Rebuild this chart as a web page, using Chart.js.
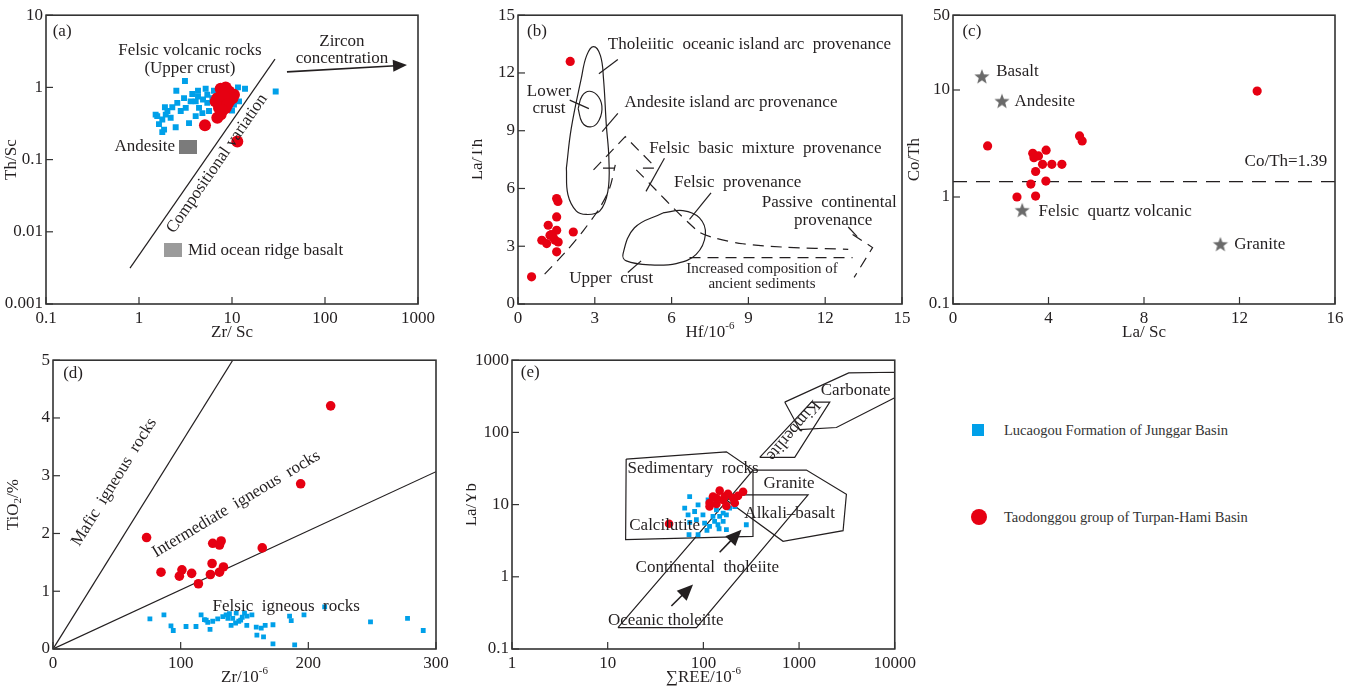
<!DOCTYPE html>
<html>
<head>
<meta charset="utf-8">
<script src="https://cdn.jsdelivr.net/npm/chart.js@4.4.1/dist/chart.umd.min.js"></script>
<style>
body { margin: 0; background: #fff; }
#wrap { position: relative; width: 1359px; height: 692px; overflow: hidden; background: #fff; font-family: 'Liberation Serif', serif; }
#wrap canvas { position: absolute; }
.lg { position: absolute; font-size: 14.5px; color: #333; line-height: 16px; }
.mk { position: absolute; }
</style>
</head>
<body>
<div id="wrap">
  <canvas id="ca"></canvas>
  <canvas id="cb"></canvas>
  <canvas id="cc"></canvas>
  <canvas id="cd"></canvas>
  <canvas id="ce"></canvas>
  <div class="mk" style="left:972px;top:424px;width:12px;height:12px;background:rgb(0,160,233);"></div>
  <div class="lg" style="left:1004px;top:422px;">Lucaogou Formation of Junggar Basin</div>
  <div class="mk" style="left:971px;top:509px;width:16px;height:16px;border-radius:50%;background:rgb(230,0,18);"></div>
  <div class="lg" style="left:1004px;top:509px;">Taodonggou group of Turpan-Hami Basin</div>
</div>
<script>
// ---- (a) Th/Sc vs Zr/Sc ----
var aBlue = [[3.12,1.23],[2.52,0.90],[3.74,0.81],[4.31,0.90],[5.21,0.96],[6.40,0.90],[11.6,1.0],[13.8,0.96],[29.5,0.88],
  [1.51,0.42],[1.90,0.53],[2.28,0.53],[2.58,0.61],[3.05,0.71],[3.59,0.64],[4.31,0.75],[4.88,0.68],[5.43,0.61],
  [1.94,0.42],[2.19,0.38],[1.78,0.36],[1.64,0.31],[1.86,0.26],[1.78,0.24],[2.48,0.28],[3.45,0.32],[4.07,0.40],
  [4.80,0.44],[5.66,0.47],[10.0,0.48],[10.5,0.58],[2.81,0.47],[3.18,0.52],[4.42,0.52],[5.43,0.79],[6.15,0.71],
  [1.57,0.40],[2.02,0.47],[4.07,0.64],[6.4,0.61],[7.25,0.52],[11.9,0.64]];
var aRed = [[8.55,1.0],[7.55,0.96],[9.29,0.88],[10.5,0.79],[6.95,0.71],[7.87,0.64],[9.29,0.64],[7.25,0.52],[8.55,0.52],
  [7.55,0.42],[6.95,0.38],[6.67,0.64],[10.1,0.71],[8.2,0.75],[8.9,0.58],[7.87,0.48],[5.12,0.30],[11.4,0.178]];
var aAndesite = [[3.37,0.151]];
var aMorb = [[2.32,0.00556]];
var aTrend = [[0.80,0.00314],[29,2.47]];
var aXTicks = [0.1, 1, 10, 100, 1000];
var aYTicks = [0.001, 0.01, 0.1, 1, 10];

// ---- (b) La/Th vs Hf ----
var bRed = [[0.53,1.41],[0.93,3.31],[1.12,3.14],[1.18,4.09],[1.25,3.57],[1.37,3.48],[1.45,3.31],[1.51,3.83],[1.51,4.52],
  [1.51,5.48],[1.56,5.33],[1.57,3.22],[1.51,2.71],[2.16,3.74],[2.04,12.6],[1.3,3.6]];
var bTholeiite = [[1.89,7.06],[1.95,5.68],[2.28,4.82],[2.67,4.65],[3.19,4.82],[3.51,5.85],[3.55,7.57],[3.45,9.29],
  [3.34,11.7],[3.22,12.9],[2.95,13.37],[2.68,12.9],[2.47,11.7],[2.08,9.12],[1.89,7.06]];
var bLowerCrust = [[2.35,10.15],[2.5,10.8],[2.8,11.05],[3.15,10.75],[3.28,10.1],[3.1,9.4],[2.8,9.2],[2.5,9.45],[2.35,10.15]];
var bUpperCrust = [[5.66,4.73],[6.44,4.85],[7.09,4.47],[7.32,3.61],[6.96,2.58],[6.18,2.1],[5.14,2.03],[4.23,2.24],
  [4.1,2.58],[4.55,3.96],[5.66,4.73]];
var bDashLower = [[1.04,1.55],[1.89,2.75],[2.54,3.79],[3.19,4.99],[3.58,6.02],[3.8,7.23]];
var bDashPeak = [[2.95,6.97],[4.19,8.69],[5.4,7.06]];
var bDashTail = [[4.62,6.97],[7.02,3.79],[7.74,3.41],[8.78,3.13],[10.3,2.96],[12.9,2.84]];
var bDashHead = [[13.07,3.61],[13.85,2.93],[13.13,1.38]];
var bDashBase = [[6.7,2.41],[13.07,2.41]];
var bDashStub1 = [[3.32,7.06],[3.77,7.06]];
var bDashStub2 = [[4.88,7.06],[5.4,7.06]];
var bLeaders = [
  [[3.9,12.7],[3.16,11.96]],
  [[2.02,10.59],[2.77,10.15]],
  [[3.9,9.9],[3.29,8.95]],
  [[5.72,7.57],[5.0,5.85]],
  [[7.54,5.77],[6.7,4.39]],
  [[4.81,2.24],[4.29,1.64]],
  [[12.9,4.0],[13.25,3.5]]
];
var bTicks = [0, 3, 6, 9, 12, 15];

// ---- (c) Co/Th vs La/Sc ----
var cRed = [[12.74,9.78],[1.45,3.0],[5.3,3.72],[5.41,3.34],[3.34,2.56],[3.9,2.74],[3.39,2.33],[3.58,2.42],[3.75,2.02],
  [4.14,2.02],[4.56,2.02],[3.46,1.73],[3.26,1.32],[3.89,1.41],[2.68,1.0],[3.46,1.02]];
var cRef = [[1.21,13.2],[2.05,7.78],[2.9,0.743],[11.2,0.357]];
var cCoTh = 1.39;
var cXTicks = [0, 4, 8, 12, 16];
var cYTicks = [0.1, 1, 10, 50];

// ---- (d) TiO2 vs Zr ----
var dRed = [[217.5,4.21],[194,2.86],[73.3,1.93],[163.9,1.75],[125.1,1.83],[131.7,1.87],[130.4,1.80],[124.6,1.48],
  [133.5,1.42],[130.4,1.33],[123.3,1.29],[108.6,1.31],[101,1.37],[99,1.26],[84.6,1.33],[113.9,1.13]];
var dBlue = [[75.9,0.52],[86.9,0.59],[92.4,0.40],[94.2,0.32],[104.2,0.39],[112,0.39],[116,0.59],[118.6,0.51],[121.2,0.46],
  [123,0.34],[125.1,0.48],[129,0.52],[133,0.56],[135.6,0.59],[138.2,0.61],[139.5,0.41],[140.8,0.53],[143.5,0.62],
  [145.5,0.48],[148.2,0.55],[150,0.62],[151.8,0.41],[155.8,0.59],[159.2,0.38],[159.7,0.24],[163.1,0.36],[164.9,0.21],
  [166.2,0.41],[172.3,0.42],[172.3,0.09],[185.3,0.57],[186.6,0.49],[189.3,0.07],[196.6,0.59],[212.8,0.73],[248.7,0.47],
  [277.7,0.53],[290,0.32],[143,0.45],[147,0.5],[137,0.53],[152,0.57],[120,0.5]];
var dMafic = [[0,0],[140.8,5]];
var dInter = [[0,0],[300,3.07]];
var dXTicks = [0, 100, 200, 300];
var dYTicks = [0, 1, 2, 3, 4, 5];

// ---- (e) La/Yb vs REE ----
var eRed = [[43.8,5.43],[148,15.6],[181,14.1],[126,12.9],[116,10.5],[137,10.2],[161,11.6],[204,12.3],[230,13.2],
  [260,15.1],[213,10.5],[116,9.4],[174,9.6],[137,12.3],[167,12.9]];
var eBlue = [[71.9,12.9],[63.8,8.93],[88,9.93],[69.2,7.22],[81,8.03],[99,7.22],[72,5.66],[70.8,3.83],[88,3.83],[109,4.39],
  [131,5.85],[146,4.63],[161,5.85],[174,4.49],[112,11.6],[137,8.47],[161,7.62],[188,8.93],[213,9.42],[281,5.26],
  [126,6.86],[148,6.86],[174,7.22],[142,5.26],[103,5.55],[84.5,6.17],[116,4.99]];
var eCarbonate = [[708,263],[3305,667],[10000,681],[10000,302],[2455,117],[1016,109],[708,263]];
var eKimberlite = [[388,45],[1346,263],[2094,263],[901,45],[388,45]];
var eSediment = [[15.6,42.7],[174,53.9],[330,30.1],[330,3.63],[15.4,3.27],[15.6,42.7]];
var eTholeiite = [[12.8,0.198],[84.6,0.198],[1242,13.6],[199.5,13.6],[12.8,0.198]];
var eDiag = [[199.5,13.6],[330,30.1]];
var eGranite = [[330,30.1],[1193,30.1],[3124,13.9],[2884,4.35],[680,3.10],[174,11.6]];
var eXTicks = [1, 10, 100, 1000, 10000];
var eYTicks = [0.1, 1, 10, 100, 1000];

var RED = 'rgb(230,0,18)', BLUE = 'rgb(0,160,233)', INK = '#231f20';
var FONT = '"Liberation Serif", "DejaVu Serif", serif';

function pts(arr) { return arr.map(function (p) { return { x: p[0], y: p[1] }; }); }

function starImg(r, color) {
  var c = document.createElement('canvas');
  c.width = c.height = 2 * r + 2;
  var g = c.getContext('2d');
  g.fillStyle = color;
  g.beginPath();
  for (var i = 0; i < 10; i++) {
    var rr = i % 2 ? r * 0.42 : r, an = -Math.PI / 2 + i * Math.PI / 5;
    g.lineTo(r + 1 + rr * Math.cos(an), r + 1 + rr * Math.sin(an));
  }
  g.closePath();
  g.fill();
  return c;
}
function rectImg(w, h, color) {
  var c = document.createElement('canvas');
  c.width = w; c.height = h;
  var g = c.getContext('2d');
  g.fillStyle = color;
  g.fillRect(0, 0, w, h);
  return c;
}

function dots(arr, color, r) {
  return { data: pts(arr), pointStyle: 'circle', pointRadius: r, backgroundColor: color, borderWidth: 0, order: 0 };
}
function squares(arr, r) {
  return { data: pts(arr), pointStyle: 'rect', pointRadius: r, backgroundColor: BLUE, borderWidth: 0, order: 1 };
}
function line(arr, opt) {
  opt = opt || {};
  return { data: pts(arr), showLine: true, pointRadius: 0, borderColor: INK, borderWidth: opt.w || 1.2,
    borderDash: opt.dash || [], tension: opt.tension || 0, fill: false, order: 2 };
}

function richText(ctx, parts, x, y) {
  var w = 0;
  parts.forEach(function (p) {
    ctx.font = (p[1] ? '11px ' : '17px ') + FONT;
    p.w = ctx.measureText(p[0]).width;
    w += p.w;
  });
  var cx = x - w / 2;
  ctx.textAlign = 'left';
  ctx.textBaseline = 'middle';
  parts.forEach(function (p) {
    ctx.font = (p[1] ? '11px ' : '17px ') + FONT;
    var dy = p[1] === 'sup' ? -7 : (p[1] === 'sub' ? 4 : 0);
    ctx.fillText(p[0], cx, y + dy);
    cx += p.w;
  });
}

var deco = {
  id: 'deco',
  afterDatasetsDraw: function (chart, args, o) {
    var ctx = chart.ctx, a = chart.chartArea, xs = chart.scales.x, ys = chart.scales.y;
    ctx.save();
    ctx.strokeStyle = '#333';
    ctx.lineWidth = 1.6;
    ctx.strokeRect(a.left, a.top, a.right - a.left, a.bottom - a.top);
    ctx.lineWidth = 1.2;
    xs.ticks.forEach(function (t) {
      var p = xs.getPixelForValue(t.value);
      ctx.beginPath(); ctx.moveTo(p, a.bottom); ctx.lineTo(p, a.bottom - 7); ctx.stroke();
    });
    ys.ticks.forEach(function (t) {
      var p = ys.getPixelForValue(t.value);
      ctx.beginPath(); ctx.moveTo(a.left, p); ctx.lineTo(a.left + 7, p); ctx.stroke();
    });
    ctx.fillStyle = INK;
    ctx.strokeStyle = INK;
    (o.texts || []).forEach(function (t) {
      var px = xs.getPixelForValue(t.x), py = ys.getPixelForValue(t.y);
      ctx.save();
      ctx.translate(px, py);
      if (t.rot) ctx.rotate(t.rot * Math.PI / 180);
      ctx.font = (t.size || 17) + 'px ' + FONT;
      ctx.textAlign = t.align || 'center';
      ctx.textBaseline = 'middle';
      ctx.fillText(t.t, 0, 0);
      ctx.restore();
    });
    (o.arrows || []).forEach(function (ar) {
      var x1 = xs.getPixelForValue(ar[0][0]), y1 = ys.getPixelForValue(ar[0][1]);
      var x2 = xs.getPixelForValue(ar[1][0]), y2 = ys.getPixelForValue(ar[1][1]);
      var an = Math.atan2(y2 - y1, x2 - x1), hl = ar[2] || 14, hw = ar[3] || 5;
      ctx.lineWidth = 1.6;
      ctx.beginPath(); ctx.moveTo(x1, y1);
      ctx.lineTo(x2 - hl * 0.8 * Math.cos(an), y2 - hl * 0.8 * Math.sin(an)); ctx.stroke();
      ctx.beginPath();
      ctx.moveTo(x2, y2);
      ctx.lineTo(x2 - hl * Math.cos(an) + hw * Math.sin(an), y2 - hl * Math.sin(an) - hw * Math.cos(an));
      ctx.lineTo(x2 - hl * Math.cos(an) - hw * Math.sin(an), y2 - hl * Math.sin(an) + hw * Math.cos(an));
      ctx.closePath(); ctx.fill();
    });
    // axis titles
    richText(ctx, o.xTitle, (a.left + a.right) / 2, a.bottom + 29);
    ctx.save();
    ctx.translate(a.left - o.yOff, (a.top + a.bottom) / 2);
    ctx.rotate(-Math.PI / 2);
    richText(ctx, o.yTitle, 0, 0);
    ctx.restore();
    ctx.restore();
  }
};

function axis(type, min, max, list, pad, fit) {
  return {
    type: type, min: min, max: max,
    afterFit: fit,
    afterBuildTicks: function (s) { s.ticks = list.map(function (v) { return { value: v }; }); },
    grid: { display: false, drawTicks: false },
    border: { display: false },
    ticks: { font: { family: FONT, size: 17 }, color: INK, padding: pad, maxRotation: 0, autoSkip: false,
      callback: function (v) { return String(v); } }
  };
}

function makeChart(id, box, c) {
  var padL = 46, padT = 12, padR = 25, padB = 40;
  var cv = document.getElementById(id);
  cv.width = box[2] - box[0] + padL + padR;
  cv.height = box[3] - box[1] + padT + padB;
  cv.style.left = (box[0] - padL) + 'px';
  cv.style.top = (box[1] - padT) + 'px';
  return new Chart(cv, {
    type: 'scatter',
    data: { datasets: c.datasets },
    options: {
      responsive: false, animation: false, devicePixelRatio: 1, events: [],
      layout: { autoPadding: false, padding: { left: 0, top: padT, right: padR, bottom: 0 } },
      scales: {
        x: axis(c.xType, c.xMin, c.xMax, c.xTicks, 4, function (s) { s.height = padB; }),
        y: axis(c.yType, c.yMin, c.yMax, c.yTicks, 3, function (s) { s.width = padL; })
      },
      plugins: { legend: { display: false }, tooltip: { enabled: false }, deco: c.deco }
    },
    plugins: [deco]
  });
}

// (a)
makeChart('ca', [46, 14, 418, 304], {
  xType: 'logarithmic', xMin: 0.1, xMax: 1000, xTicks: aXTicks,
  yType: 'logarithmic', yMin: 0.001, yMax: 10, yTicks: aYTicks,
  datasets: [
    dots(aRed, RED, 6),
    squares(aBlue, 4.2),
    { data: pts(aAndesite), pointStyle: rectImg(18, 14, '#7b7b7b'), pointRadius: 9, order: 1 },
    { data: pts(aMorb), pointStyle: rectImg(18, 14, '#9b9b9b'), pointRadius: 9, order: 1 },
    line(aTrend)
  ],
  deco: {
    xTitle: [['Zr/ Sc']], yTitle: [['Th/Sc']], yOff: 34,
    texts: [
      { t: '(a)', x: 0.149, y: 6.0 },
      { t: 'Felsic volcanic rocks', x: 3.53, y: 3.19 },
      { t: '(Upper crust)', x: 3.53, y: 1.80 },
      { t: 'Zircon', x: 152, y: 4.37 },
      { t: 'concentration', x: 152, y: 2.55 },
      { t: 'Compositional variation', x: 6.9, y: 0.088, rot: -55.4 },
      { t: 'Andesite', x: 2.44, y: 0.151, align: 'right' },
      { t: 'Mid ocean ridge basalt', x: 3.36, y: 0.00556, align: 'left' }
    ],
    arrows: [[[39, 1.64], [762, 2.04], 14, 6]]
  }
});

// (b)
var bSets = [
  dots(bRed, RED, 4.6),
  line(bTholeiite, { tension: 0.4 }),
  line(bLowerCrust, { tension: 0.4 }),
  line(bUpperCrust, { tension: 0.4 }),
  line(bDashLower, { dash: [11, 7], tension: 0.3 }),
  line(bDashPeak, { dash: [11, 7] }),
  line(bDashTail, { dash: [11, 7], tension: 0.3 }),
  line(bDashHead, { dash: [11, 7] }),
  line(bDashBase, { dash: [11, 7] }),
  line(bDashStub1, { dash: [11, 7] }),
  line(bDashStub2, { dash: [11, 7] })
];
bLeaders.forEach(function (l) { bSets.push(line(l)); });
makeChart('cb', [518, 14, 902, 304], {
  xType: 'linear', xMin: 0, xMax: 15, xTicks: bTicks,
  yType: 'linear', yMin: 0, yMax: 15, yTicks: bTicks,
  datasets: bSets,
  deco: {
    xTitle: [['Hf/10'], ['-6', 'sup']], yTitle: [['La/Th']], yOff: 40,
    texts: [
      { t: '(b)', x: 0.74, y: 14.15 },
      { t: 'Tholeiitic  oceanic island arc  provenance', x: 9.04, y: 13.46 },
      { t: 'Lower', x: 1.21, y: 11.05 },
      { t: 'crust', x: 1.21, y: 10.15 },
      { t: 'Andesite island arc provenance', x: 8.32, y: 10.46 },
      { t: 'Felsic  basic  mixture  provenance', x: 9.66, y: 8.09 },
      { t: 'Felsic  provenance', x: 8.58, y: 6.32 },
      { t: 'Passive  continental', x: 12.16, y: 5.25 },
      { t: 'provenance', x: 12.31, y: 4.34 },
      { t: 'Upper  crust', x: 3.64, y: 1.34 },
      { t: 'Increased composition of', x: 9.53, y: 1.84, size: 15 },
      { t: 'ancient sediments', x: 9.53, y: 1.03, size: 15 }
    ]
  }
});

// (c)
makeChart('cc', [953, 14, 1335, 304], {
  xType: 'linear', xMin: 0, xMax: 16, xTicks: cXTicks,
  yType: 'logarithmic', yMin: 0.1, yMax: 50, yTicks: cYTicks,
  datasets: [
    dots(cRed, RED, 4.6),
    { data: pts(cRef), pointStyle: starImg(8, '#6a6a6a'), pointRadius: 8, order: 1 },
    line([[0, cCoTh], [16, cCoTh]], { dash: [14, 9] })
  ],
  deco: {
    xTitle: [['La/ Sc']], yTitle: [['Co/Th']], yOff: 38,
    texts: [
      { t: '(c)', x: 0.79, y: 35.5 },
      { t: 'Basalt', x: 1.81, y: 14.8, align: 'left' },
      { t: 'Andesite', x: 2.58, y: 7.78, align: 'left' },
      { t: 'Co/Th=' + cCoTh, x: 15.68, y: 2.14, align: 'right' },
      { t: 'Felsic  quartz volcanic', x: 3.58, y: 0.726, align: 'left' },
      { t: 'Granite', x: 11.78, y: 0.357, align: 'left' }
    ]
  }
});

// (d)
makeChart('cd', [53, 359, 436, 649], {
  xType: 'linear', xMin: 0, xMax: 300, xTicks: dXTicks,
  yType: 'linear', yMin: 0, yMax: 5, yTicks: dYTicks,
  datasets: [
    dots(dRed, RED, 4.8),
    squares(dBlue, 3.4),
    line(dMafic),
    line(dInter)
  ],
  deco: {
    xTitle: [['Zr/10'], ['-6', 'sup']], yTitle: [['TiO'], ['2', 'sub'], ['/%']], yOff: 39,
    texts: [
      { t: '(d)', x: 15.7, y: 4.77 },
      { t: 'Mafic  igneous  rocks', x: 47.9, y: 2.89, rot: -58.3 },
      { t: 'Intermediate  igneous  rocks', x: 143.5, y: 2.51, rot: -31 },
      { t: 'Felsic  igneous  rocks', x: 182.7, y: 0.73 }
    ]
  }
});

// (e)
makeChart('ce', [512, 359, 895, 649], {
  xType: 'logarithmic', xMin: 1, xMax: 10000, xTicks: eXTicks,
  yType: 'logarithmic', yMin: 0.1, yMax: 1000, yTicks: eYTicks,
  datasets: [
    dots(eRed, RED, 4.3),
    squares(eBlue, 3.4),
    line(eCarbonate),
    line(eKimberlite),
    line(eSediment),
    line(eTholeiite),
    line(eDiag),
    line(eGranite)
  ],
  deco: {
    xTitle: [['\u2211REE/10'], ['-6', 'sup']], yTitle: [['La/Yb']], yOff: 40,
    texts: [
      { t: '(e)', x: 1.55, y: 667 },
      { t: 'Carbonate', x: 3909, y: 381 },
      { t: 'Kimberlite', x: 865, y: 107, rot: 130 },
      { t: 'Sedimentary  rocks', x: 78, y: 31.8 },
      { t: 'Granite', x: 786, y: 19.3 },
      { t: 'Alkali\u2013basalt', x: 798, y: 7.46 },
      { t: 'Calcilutite', x: 39.4, y: 5.15 },
      { t: 'Continental  tholeiite', x: 110, y: 1.33 },
      { t: 'Oceanic tholeiite', x: 40.4, y: 0.245 }
    ],
    arrows: [[[46.3, 0.394], [78, 0.784], 16, 7], [[148, 2.19], [250, 4.49], 16, 7]]
  }
});
</script>
</body>
</html>
